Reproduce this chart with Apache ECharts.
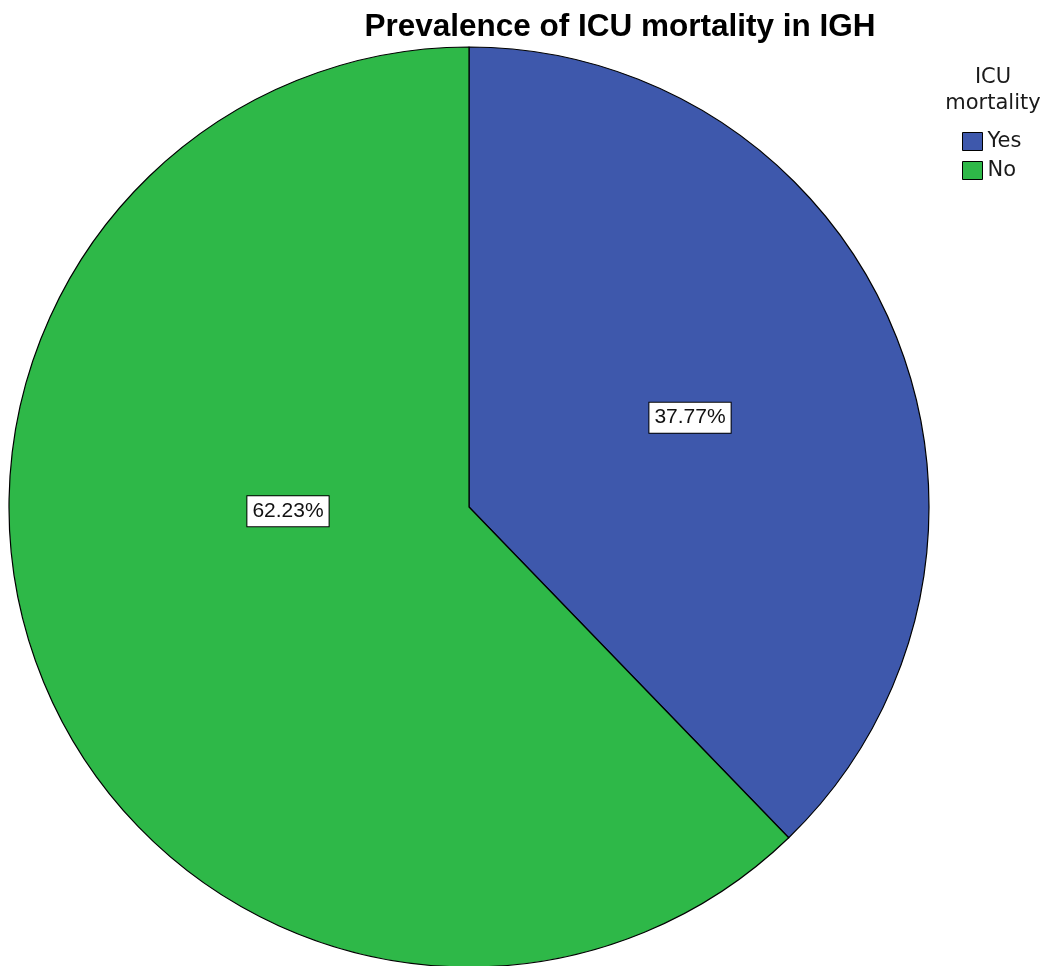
<!DOCTYPE html>
<html>
<head>
<meta charset="utf-8">
<script src="https://cdn.jsdelivr.net/npm/echarts@6/dist/echarts.min.js"></script>
<style>
html,body{margin:0;padding:0;background:#fff;}
#chart{width:1050px;height:966px;}
</style>
</head>
<body>
<div id="chart"></div>
<script>
// ICU mortality shares (percent)
const categories = ['Yes', 'No'];
const percentages = [37.77, 62.23];
const sliceColors = ['#3E58AC', '#2EB848'];
const chartTitle = 'Prevalence of ICU mortality in IGH';
const legendTitle = 'ICU\nmortality';

// per-slice label nudges for readability
const labelOffsets = [[5, -2], [35, -83]];

const chart = echarts.init(document.getElementById('chart'), null, {renderer: 'canvas'});

const data = categories.map((name, i) => ({
  name: name,
  value: percentages[i],
  itemStyle: {color: sliceColors[i]},
  label: {offset: labelOffsets[i]}
}));

chart.setOption({
  animation: false,
  backgroundColor: '#ffffff',
  title: [
    {
      text: chartTitle,
      left: 615,
      textAlign: 'center',
      top: 6,
      textStyle: {fontFamily: 'Liberation Sans, Arial', fontWeight: 'bold', fontSize: 31.5, color: '#000'}
    },
    {
      text: legendTitle,
      left: 988,
      textAlign: 'center',
      top: 60,
      textStyle: {fontFamily: 'DejaVu Sans', fontWeight: 'normal', fontSize: 21, lineHeight: 26, color: '#1a1a1a'}
    }
  ],
  legend: {
    orient: 'vertical',
    left: 962,
    top: 131,
    padding: 0,
    icon: 'rect',
    itemWidth: 20,
    itemHeight: 18,
    itemGap: 8,
    selectedMode: false,
    textStyle: {fontFamily: 'DejaVu Sans', fontSize: 21, color: '#1a1a1a'},
    itemStyle: {borderColor: '#000', borderWidth: 1},
    data: categories
  },
  series: [{
    type: 'pie',
    center: [469, 507],
    radius: 460,
    startAngle: 90,
    clockwise: true,
    silent: true,
    itemStyle: {borderColor: '#000', borderWidth: 1.2},
    label: {
      show: true,
      position: 'inside',
      formatter: p => p.value.toFixed(2) + '%',
      fontFamily: 'Liberation Sans, Arial',
      fontSize: 21,
      color: '#111',
      backgroundColor: '#fff',
      borderColor: '#000',
      borderWidth: 1,
      padding: [5, 5, 4, 5]
    },
    labelLine: {show: false},
    data: data
  }]
});
</script>
</body>
</html>
